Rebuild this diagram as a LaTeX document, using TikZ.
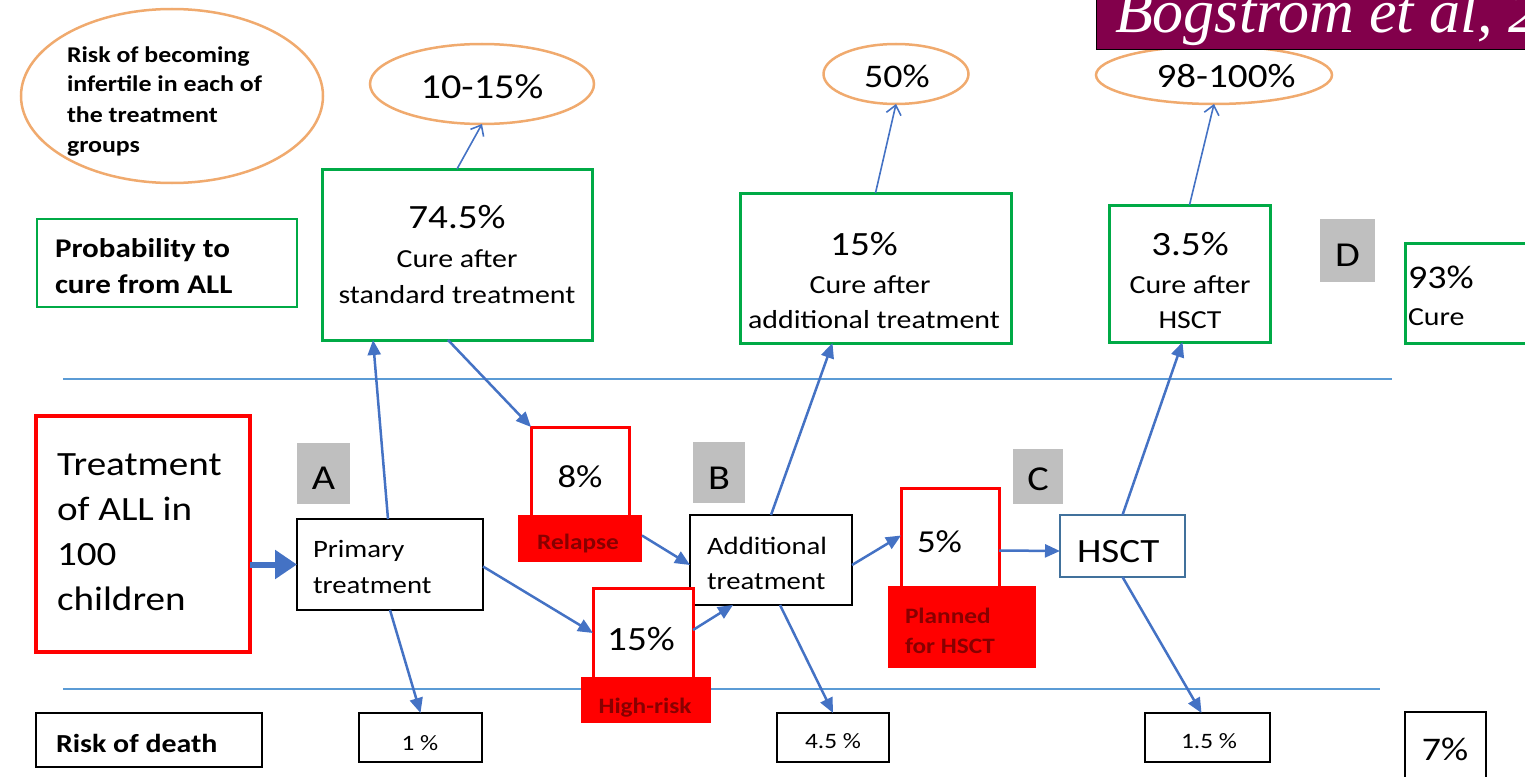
\documentclass[tikz,border=0pt]{standalone}
\usepackage{fontspec}
\setmainfont{Carlito}[FakeStretch=1.15]
\newfontfamily\bannerfont{Liberation Serif}
\usetikzlibrary{arrows.meta,shapes.geometric}
\definecolor{grn}{RGB}{0,170,70}
\definecolor{rd}{RGB}{255,0,0}
\definecolor{drd}{RGB}{135,0,0}
\definecolor{org}{RGB}{240,170,110}
\definecolor{lineblue}{RGB}{91,155,213}
\definecolor{arrblue}{RGB}{68,114,196}
\definecolor{gry}{RGB}{191,191,191}
\definecolor{hsctblue}{RGB}{65,113,156}
\definecolor{purp}{RGB}{130,0,75}
\newcommand\fsz[1]{\fontsize{#1}{#1}\selectfont}
\tikzset{
  every node/.style={inner sep=0pt, outer sep=0pt},
  bx/.style={draw, fill=white, line width=2pt},
  gbox/.style={draw=grn, fill=white, line width=3pt},
  gthin/.style={draw=grn, fill=white, line width=1.8pt},
  rbox/.style={draw=rd, fill=white, line width=3pt},
  rfill/.style={fill=rd},
  graybox/.style={fill=gry},
  oval/.style={ellipse, draw=org, line width=2.5pt, fill=white},
  arr/.style={draw=arrblue, line width=2.5pt, -{Triangle[length=15pt,width=13pt]}},
  earr/.style={draw=arrblue, line width=1.6pt, -{Straight Barb[length=9pt,width=15pt]}},
  thickarr/.style={draw=arrblue, line width=6pt, -{Triangle[length=22pt,width=28pt]}},
  sep/.style={draw=lineblue, line width=2.5pt},
  txt/.style={anchor=base},
  ltxt/.style={anchor=base west},
}
\begin{document}
\begin{tikzpicture}[x=1pt,y=-1pt]
\useasboundingbox (0,0) rectangle (1525,776);
% separator lines
\coordinate (l1a) at (63,379); \coordinate (l1b) at (1392,379);
\coordinate (l2a) at (63,689); \coordinate (l2b) at (1380,689);
\draw[sep] (l1a) -- (l1b);
\draw[sep] (l2a) -- (l2b);

% ellipses
\node[oval, minimum width=302, minimum height=174] (risk) at (172,96) {};
\node[oval, minimum width=224, minimum height=80] (e1) at (482,84) {};
\node[oval, minimum width=145, minimum height=60] (e2) at (896,74) {};
\node[oval, minimum width=236, minimum height=58] (e3) at (1214,75) {};

% banner
\node[fill=purp, draw=black, line width=1pt, minimum width=460, minimum height=70] (banner) at (1326,15) {};
\node[ltxt, text=white] (bannertxt) at (1115,33) {\bannerfont\itshape\fsz{62}Bogstrom et al, 2};

% green boxes
\node[gthin, minimum width=260, minimum height=88] (prob) at (167,263) {};
\node[gbox, minimum width=270, minimum height=171] (cure1) at (457,254.5) {};
\node[gbox, minimum width=271, minimum height=150] (cure2) at (875.5,268) {};
\node[gbox, minimum width=161, minimum height=137] (cure3) at (1189.5,273.5) {};
\node[gbox, minimum width=150, minimum height=100] (cure4) at (1480,293) {};

% gray letter boxes
\node[graybox, minimum width=53, minimum height=61] (A) at (323.5,473.5) {};
\node[graybox, minimum width=52, minimum height=61] (B) at (719,472.5) {};
\node[graybox, minimum width=50, minimum height=55] (C) at (1038,476) {};
\node[graybox, minimum width=55, minimum height=63] (D) at (1347.5,250.5) {};

% main boxes
\node[draw=rd, fill=white, line width=4.5pt, minimum width=214, minimum height=236] (treat) at (143,534) {};
\node[bx, minimum width=186, minimum height=91] (prim) at (390,564.5) {};
\node[bx, minimum width=162, minimum height=90] (add) at (771,560) {};
\node[draw=hsctblue, fill=white, line width=2pt, minimum width=125, minimum height=62] (hsct) at (1122.5,546) {};

\node[rbox, minimum width=98, minimum height=89] (p8) at (580,471.5) {};
\node[rfill, minimum width=124, minimum height=47] (relapse) at (580,538.5) {};
\node[rbox, minimum width=100, minimum height=90] (p15) at (643,633) {};
\node[rfill, minimum width=130, minimum height=46] (hr) at (646,700) {};
\node[rbox, minimum width=98, minimum height=99] (p5) at (950,537.5) {};
\node[rfill, minimum width=148, minimum height=82] (plan) at (962,627) {};

% bottom boxes
\node[bx, line width=2.5pt, minimum width=226, minimum height=54] (rod) at (149,740) {};
\node[bx, line width=2.5pt, minimum width=123, minimum height=49] (d1) at (420.5,737.5) {};
\node[bx, line width=2.5pt, minimum width=112, minimum height=49] (d2) at (833,737.5) {};
\node[bx, line width=2.5pt, minimum width=125, minimum height=49] (d3) at (1207.5,737.5) {};
\node[bx, line width=2.5pt, minimum width=81, minimum height=80] (d4) at (1445.5,752) {};

% connectors
\draw[thickarr] (treat.east |- prim.west) -- (prim.west);
\draw[arr] ([xshift=-2pt]prim.north) -- ([xshift=-84pt]cure1.south);
\draw[arr] (prim.south) -- (d1.north);
\draw[arr] ([xshift=-9pt]cure1.south) -- (p8.north west);
\draw[earr] (cure1.north) -- (e1.south);
\draw[arr] ([yshift=-2pt]prim.east) -- (p15.west);
\draw[arr] ([yshift=3pt]relapse.east) -- ([yshift=-5pt]add.west);
\draw[arr] ([yshift=3pt]p15.east) -- ([xshift=-38pt]add.south);
\draw[arr] (add.north) -- ([xshift=-43pt]cure2.south);
\draw[earr] (cure2.north) -- (e2.south);
\draw[arr] ([xshift=9pt]add.south) -- (d2.north);
\draw[arr] ([yshift=-5pt]add.east) -- ([yshift=2pt]p5.west);
\draw[arr] ([yshift=-13pt]p5.east) -- ([yshift=-5pt]hsct.west);
\draw[arr] (hsct.north) -- ([xshift=-7pt]cure3.south);
\draw[earr] (cure3.north) -- (e3.south);
\draw[arr] (hsct.south) -- ([xshift=-6pt]d3.north);

% texts
\node[ltxt] (risk1) at (67,63) {\bfseries\fsz{22.5}Risk of becoming};
\node[ltxt] (risk2) at (67,92) {\bfseries\fsz{22.5}infertile in each of};
\node[ltxt] (risk3) at (67,122) {\bfseries\fsz{22.5}the treatment};
\node[ltxt] (risk4) at (67,152) {\bfseries\fsz{22.5}groups};
\node[txt] (e1t) at (482,98) {\fsz{35}10-15\%};
\node[txt] (e2t) at (897,88) {\fsz{33}50\%};
\node[txt] (e3t) at (1226,88) {\fsz{34}98-100\%};

\node[ltxt] (prob1) at (55,257) {\bfseries\fsz{27}Probability to};
\node[ltxt] (prob2) at (55,293) {\bfseries\fsz{27}cure from ALL};

\node[txt] (c1a) at (457,228) {\fsz{34}74.5\%};
\node[txt] (c1b) at (457,267) {\fsz{26}Cure after};
\node[txt] (c1c) at (457,303) {\fsz{26}standard treatment};
\node[txt] (c2a) at (864,255) {\fsz{34}15\%};
\node[txt] (c2b) at (870,293) {\fsz{26}Cure after};
\node[txt] (c2c) at (874,328) {\fsz{26}additional treatment};
\node[txt] (c3a) at (1190,255) {\fsz{34}3.5\%};
\node[txt] (c3b) at (1190,293) {\fsz{26}Cure after};
\node[txt] (c3c) at (1190,328) {\fsz{26}HSCT};
\node[ltxt] (c4a) at (1408,288) {\fsz{33}93\%};
\node[ltxt] (c4b) at (1408,325) {\fsz{26}Cure};

\node[txt] (At) at (323.5,489) {\fsz{35}A};
\node[txt] (Bt) at (719,489) {\fsz{35}B};
\node[txt] (Ct) at (1038,490) {\fsz{35}C};
\node[txt] (Dt) at (1347.5,266) {\fsz{35}D};

\node[ltxt] (tr1) at (57,475) {\fsz{34}Treatment};
\node[ltxt] (tr2) at (57,520) {\fsz{34}of ALL in};
\node[ltxt] (tr3) at (57,565) {\fsz{34}100};
\node[ltxt] (tr4) at (57,610) {\fsz{34}children};

\node[ltxt] (pr1) at (313,557) {\fsz{25}Primary};
\node[ltxt] (pr2) at (313,593) {\fsz{25}treatment};
\node[ltxt] (ad1) at (707,554) {\fsz{25}Additional};
\node[ltxt] (ad2) at (707,589) {\fsz{25}treatment};
\node[ltxt] (hst) at (1077,562) {\fsz{34}HSCT};

\node[txt] (p8t) at (580,487) {\fsz{32}8\%};
\node[txt, text=drd] (relt) at (578,549) {\bfseries\fsz{22}Relapse};
\node[txt] (p15t) at (641,650) {\fsz{34}15\%};
\node[txt, text=drd] (hrt) at (645,713) {\bfseries\fsz{22}High-risk};
\node[ltxt] (p5t) at (917,552) {\fsz{32}5\%};
\node[ltxt, text=drd] (pl1) at (905,623) {\bfseries\fsz{22}Planned};
\node[ltxt, text=drd] (pl2) at (905,653) {\bfseries\fsz{22}for HSCT};

\node[ltxt] (rodt) at (56,752) {\bfseries\fsz{26}Risk of death};
\node[txt] (d1t) at (420,750) {\fsz{22}1 \%};
\node[txt] (d2t) at (833,748) {\fsz{22}4.5 \%};
\node[txt] (d3t) at (1209,748) {\fsz{22}1.5 \%};
\node[txt] (d4t) at (1445,760) {\fsz{33}7\%};
\end{tikzpicture}
\end{document}
